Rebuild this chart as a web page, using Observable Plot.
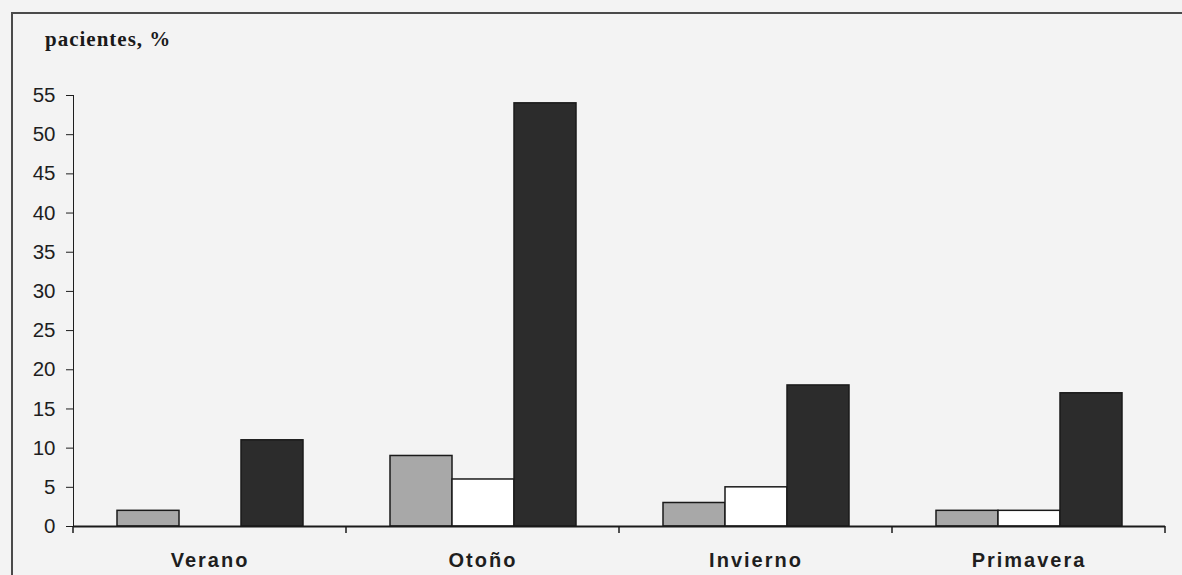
<!DOCTYPE html>
<html>
<head>
<meta charset="utf-8">
<script src="https://cdn.jsdelivr.net/npm/d3@7"></script>
<script src="https://cdn.jsdelivr.net/npm/@observablehq/plot@0.6"></script>
<style>
  html, body { margin: 0; padding: 0; background: #f3f3f3; }
  #wrap { position: relative; width: 1182px; height: 575px; overflow: hidden; background: #f3f3f3; }
  #box { position: absolute; left: 11px; top: 12px; width: 1190px; height: 600px; border: 2px solid #4a4a4a; box-sizing: border-box; }
  #title { position: absolute; left: 45px; top: 27px; font-family: "Liberation Serif", serif; font-weight: bold; font-size: 21px; letter-spacing: 1px; color: #1a1a1a; }
  #chart { position: absolute; left: 0; top: 0; }
  g[aria-label="fx-axis tick label"] text { letter-spacing: 2px; }
</style>
</head>
<body>
<div id="wrap">
  <div id="box"></div>
  <div id="chart"></div>
  <div id="title">pacientes, %</div>
</div>
<script>
const categories = ["Verano", "Otoño", "Invierno", "Primavera"];
const series = ["gris", "blanco", "negro"];
const valuesGris = [2, 9, 3, 2];
const valuesBlanco = [0, 6, 5, 2];
const valuesNegro = [11, 54, 18, 17];
const yTicks = [0, 5, 10, 15, 20, 25, 30, 35, 40, 45, 50, 55];
const seriesColors = ["#a8a8a8", "#ffffff", "#2c2c2c"];

const rows = [];
categories.forEach((c, i) => {
  rows.push({cat: c, serie: "gris", value: valuesGris[i]});
  rows.push({cat: c, serie: "blanco", value: valuesBlanco[i]});
  rows.push({cat: c, serie: "negro", value: valuesNegro[i]});
});

const chart = Plot.plot({
  width: 1182,
  height: 575,
  marginLeft: 72,
  marginRight: 17,
  marginTop: 95,
  marginBottom: 49,
  style: {background: "transparent", fontFamily: "'Liberation Sans', Arial, sans-serif", fontSize: "20.5px", color: "#1e1e1e"},
  fx: {domain: categories, padding: 0, axis: null},
  x: {domain: series, paddingInner: 0, paddingOuter: 0.7, axis: null},
  y: {domain: [0, 55], ticks: yTicks, tickSize: 7, tickPadding: 11, line: true, label: null},
  color: {domain: series, range: seriesColors},
  marks: [
    Plot.barY(rows, {fx: "cat", x: "serie", y: "value", fill: "serie", stroke: "#1a1a1a", strokeWidth: 1.5}),
    Plot.ruleY([0], {stroke: "#1a1a1a", strokeWidth: 2}),
    Plot.axisFx({anchor: "bottom", tickSize: 0, tickPadding: 26, fontWeight: "bold", fontSize: 20, label: null})
  ]
});
document.getElementById("chart").appendChild(chart);

// separator ticks at the boundaries of the fx bands
const fxs = chart.scale("fx");
const svg = d3.select(chart.tagName === "svg" ? chart : chart.querySelector("svg"));
const yBase = chart.scale("y").apply ? chart.scale("y").apply(0) : 526;
const bounds = categories.map(c => fxs.apply(c));
bounds.push(fxs.apply(categories[categories.length - 1]) + fxs.step);
svg.append("g").selectAll("line").data(bounds).join("line")
  .attr("x1", d => d).attr("x2", d => d)
  .attr("y1", yBase).attr("y2", yBase + 7)
  .attr("stroke", "#1a1a1a").attr("stroke-width", 1.5);
svg.selectAll('g[aria-label="fx-axis tick label"] text').style("letter-spacing", "2px");
</script>
</body>
</html>
